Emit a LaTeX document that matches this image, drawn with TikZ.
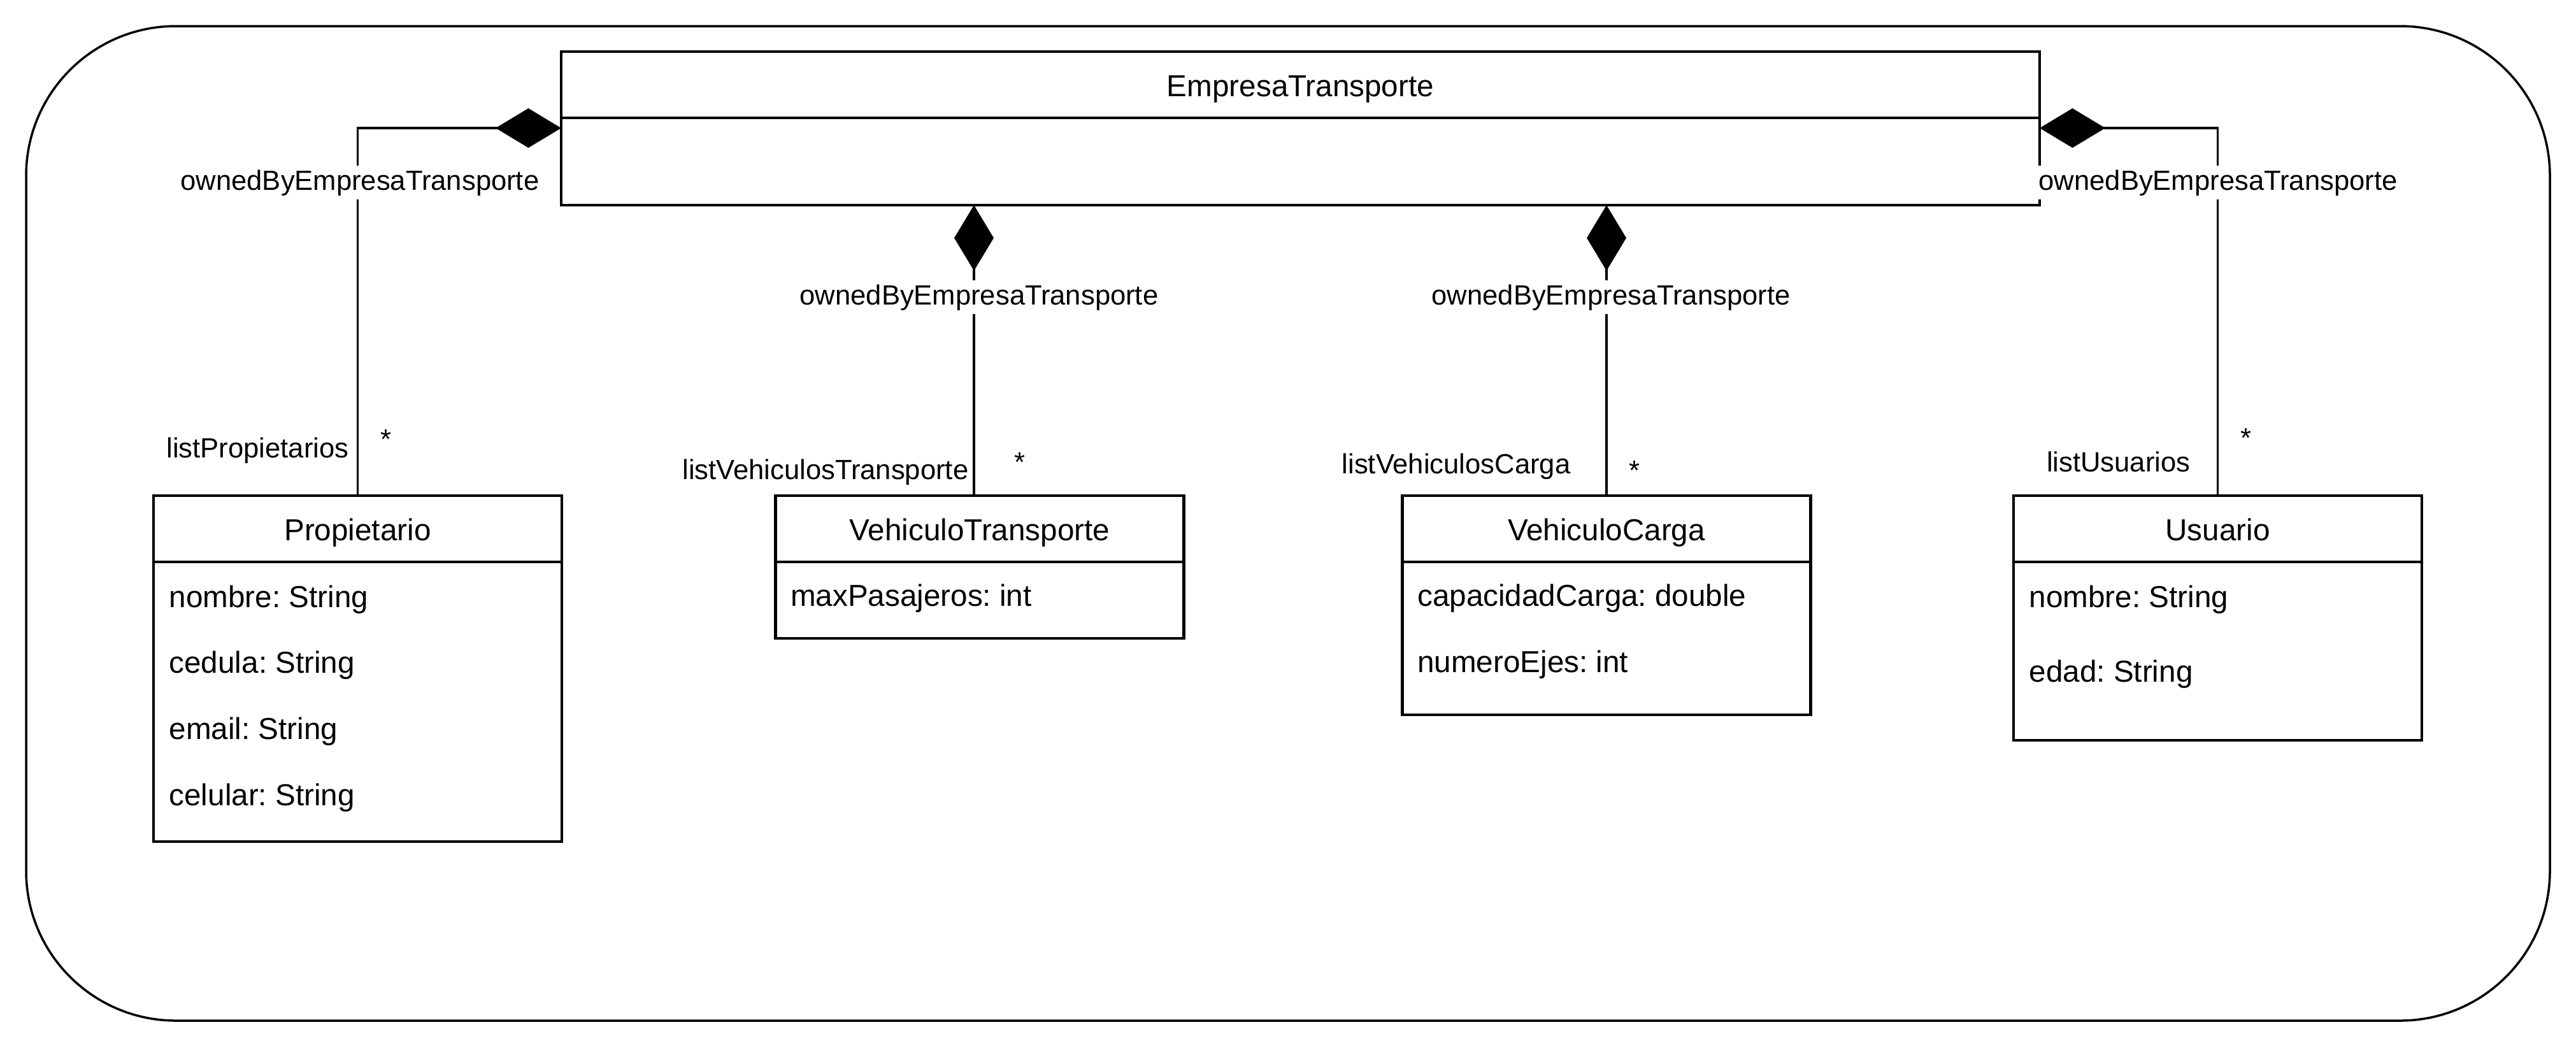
\documentclass[tikz,border=0pt]{standalone}
\usepackage{fontspec}
\setmainfont{Liberation Sans}
\frenchspacing
\usetikzlibrary{arrows.meta,calc}
\tikzset{
  clsfont/.style={font=\fontsize{13.55pt}{16pt}\selectfont},
  lblfont/.style={font=\fontsize{12.4pt}{15pt}\selectfont},
  hdr/.style={draw, line width=0.042cm, minimum width=6.41cm, minimum height=1.04cm,
    inner sep=0pt, outer sep=0pt, clsfont, text height=0.36cm, text depth=0cm},
  bdy/.style={draw, line width=0.042cm, minimum width=6.41cm, inner sep=0pt,
    outer sep=0pt, anchor=north},
  attr/.style={clsfont, anchor=base west, inner sep=0pt},
  comp/.style={line width=0.035cm, -{Diamond[length=1.03cm,width=0.62cm]}},
  own/.style={lblfont, fill=white, anchor=base, inner xsep=0.03cm, inner ysep=0.06cm},
  role/.style={lblfont, anchor=base east, inner sep=0pt},
  mult/.style={lblfont, anchor=base, inner sep=0pt},
  outerbox/.style={line width=0.035cm, rounded corners=2.35cm},
}
\begin{document}
\begin{tikzpicture}
\useasboundingbox (0,0) rectangle (40.44,-16.44);
\draw[outerbox] (0.41,-0.41) rectangle (40.03,-16.02);

% EmpresaTransporte
\node[hdr, minimum width=23.21cm] (em) at (20.415,-1.33) {EmpresaTransporte};
\node[bdy, minimum width=23.21cm, minimum height=1.37cm] (emb) at (em.south) {};

% Propietario
\node[hdr] (ph) at (5.615,-8.30) {Propietario};
\node[bdy, minimum height=4.39cm] (pb) at (ph.south) {};
\node[attr] (pa1) at ($(pb.north west)+(0.24,-0.71)$) {nombre: String};
\node[attr] (pa2) at ($(pb.north west)+(0.24,-1.74)$) {cedula: String};
\node[attr] (pa3) at ($(pb.north west)+(0.24,-2.78)$) {email: String};
\node[attr] (pa4) at ($(pb.north west)+(0.24,-3.82)$) {celular: String};

% VehiculoTransporte
\node[hdr] (vh) at (15.38,-8.30) {VehiculoTransporte};
\node[bdy, minimum height=1.20cm] (vb) at (vh.south) {};
\node[attr] (va1) at ($(vb.north west)+(0.23,-0.69)$) {maxPasajeros: int};

% VehiculoCarga
\node[hdr] (ch) at (25.22,-8.30) {VehiculoCarga};
\node[bdy, minimum height=2.40cm] (cb) at (ch.south) {};
\node[attr] (ca1) at ($(cb.north west)+(0.23,-0.69)$) {capacidadCarga: double};
\node[attr] (ca2) at ($(cb.north west)+(0.23,-1.73)$) {numeroEjes: int};

% Usuario
\node[hdr] (uh) at (34.815,-8.30) {Usuario};
\node[bdy, minimum height=2.80cm] (ub) at (uh.south) {};
\node[attr] (ua1) at ($(ub.north west)+(0.24,-0.71)$) {nombre: String};
\node[attr] (ua2) at ($(ub.north west)+(0.24,-1.88)$) {edad: String};

% connectors
\coordinate (vtx) at (15.29,0);
\draw[comp] (ph.north) |- ($(emb.north west)+(0,-0.16)$);
\draw[comp] (vh.north -| vtx) -- (emb.south -| vtx);
\draw[comp] (ch.north) -- (ch.north |- emb.south);
\draw[comp] (uh.north) |- ($(emb.north east)+(0,-0.16)$);

% association end labels
\node[own] (o1) at (5.65,-2.98) {ownedByEmpresaTransporte};
\node[own] (o2) at (15.37,-4.78) {ownedByEmpresaTransporte};
\node[own] (o3) at (25.29,-4.78) {ownedByEmpresaTransporte};
\node[own] (o4) at (34.82,-2.98) {ownedByEmpresaTransporte};

\node[role] (r1) at (5.48,-7.18) {listPropietarios};
\node[mult] (m1) at (6.06,-7.04) {*};
\node[role] (r2) at (15.21,-7.52) {listVehiculosTransporte};
\node[mult] (m2) at (16.01,-7.40) {*};
\node[role] (r3) at (24.66,-7.43) {listVehiculosCarga};
\node[mult] (m3) at (25.66,-7.53) {*};
\node[role] (r4) at (34.39,-7.40) {listUsuarios};
\node[mult] (m4) at (35.26,-7.02) {*};
\end{tikzpicture}
\end{document}
